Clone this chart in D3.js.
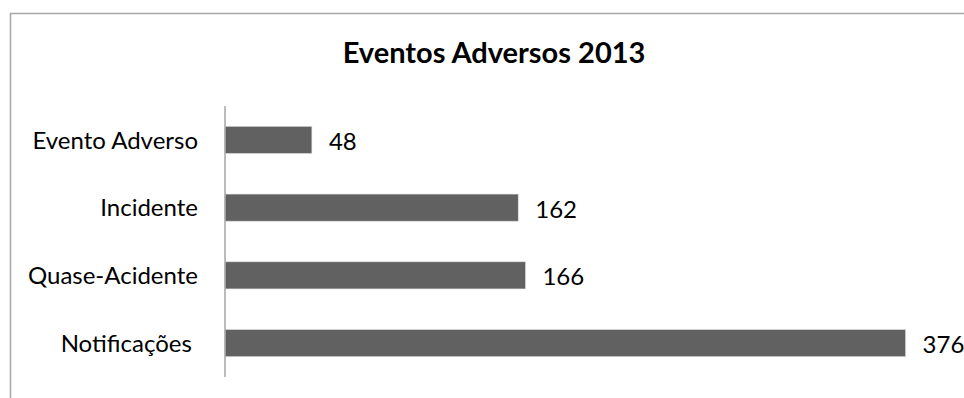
<!DOCTYPE html>
<html>
<head>
<meta charset="utf-8">
<script src="https://cdn.jsdelivr.net/npm/d3@7"></script>
<style>
  html, body { margin: 0; padding: 0; background: #fff; }
  svg { display: block; }
  text { white-space: pre; }
</style>
</head>
<body>
<svg id="chart" width="964" height="398"></svg>
<script>
// Categories, top to bottom, and their counts
const categories = ["Evento Adverso", "Incidente", "Quase-Acidente", "Notificações "];
const counts = [48, 162, 166, 376];
const title = "Eventos Adversos 2013";

const W = 964, H = 398;
const FONT = "Lato, 'Noto Sans', sans-serif";
const svg = d3.select("#chart");

// Outer chart frame (runs off the right and bottom edges)
svg.append("rect")
  .attr("x", 10.5).attr("y", 13.5)
  .attr("width", W).attr("height", H)
  .attr("fill", "#fff")
  .attr("stroke", "#a6a6a6")
  .attr("stroke-width", 1.5);

const plot = { left: 225, right: 949, top: 106, bottom: 377 };

const x = d3.scaleLinear().domain([0, 400]).range([plot.left, plot.right]);
const y = d3.scaleBand()
  .domain(categories)
  .range([plot.top, plot.bottom])
  .paddingInner(0.6)
  .paddingOuter(0.3);

// Title
svg.append("text")
  .attr("x", 494).attr("y", 63)
  .attr("text-anchor", "middle")
  .attr("font-family", FONT)
  .attr("font-weight", "bold")
  .attr("font-size", 29)
  .attr("fill", "#000")
  .text(title);

// Bars
svg.append("g").selectAll("rect")
  .data(categories)
  .join("rect")
  .attr("x", x(0))
  .attr("y", d => y(d))
  .attr("width", (d, i) => x(counts[i]) - x(0))
  .attr("height", y.bandwidth())
  .attr("fill", "#616161")
  .attr("stroke", "#d9d9d9")
  .attr("stroke-width", 0.6);

// Category axis (line only, no ticks)
const yAxis = svg.append("g")
  .attr("transform", `translate(${plot.left},0)`)
  .call(d3.axisLeft(y).tickSize(0).tickPadding(27));
yAxis.select(".domain").attr("stroke", "#a6a6a6").attr("stroke-width", 1.5)
  .attr("d", `M0,${plot.top}V${plot.bottom}`);
yAxis.selectAll("text")
  .attr("font-family", FONT)
  .attr("font-size", 24)
  .attr("fill", "#000")
  .attr("dy", "0.36em");

// Value labels
svg.append("g").selectAll("text")
  .data(categories)
  .join("text")
  .attr("x", (d, i) => x(counts[i]) + 17)
  .attr("y", d => y(d) + y.bandwidth() / 2)
  .attr("dy", "0.42em")
  .attr("font-family", FONT)
  .attr("font-size", 24)
  .attr("fill", "#000")
  .text((d, i) => counts[i]);
</script>
</body>
</html>
